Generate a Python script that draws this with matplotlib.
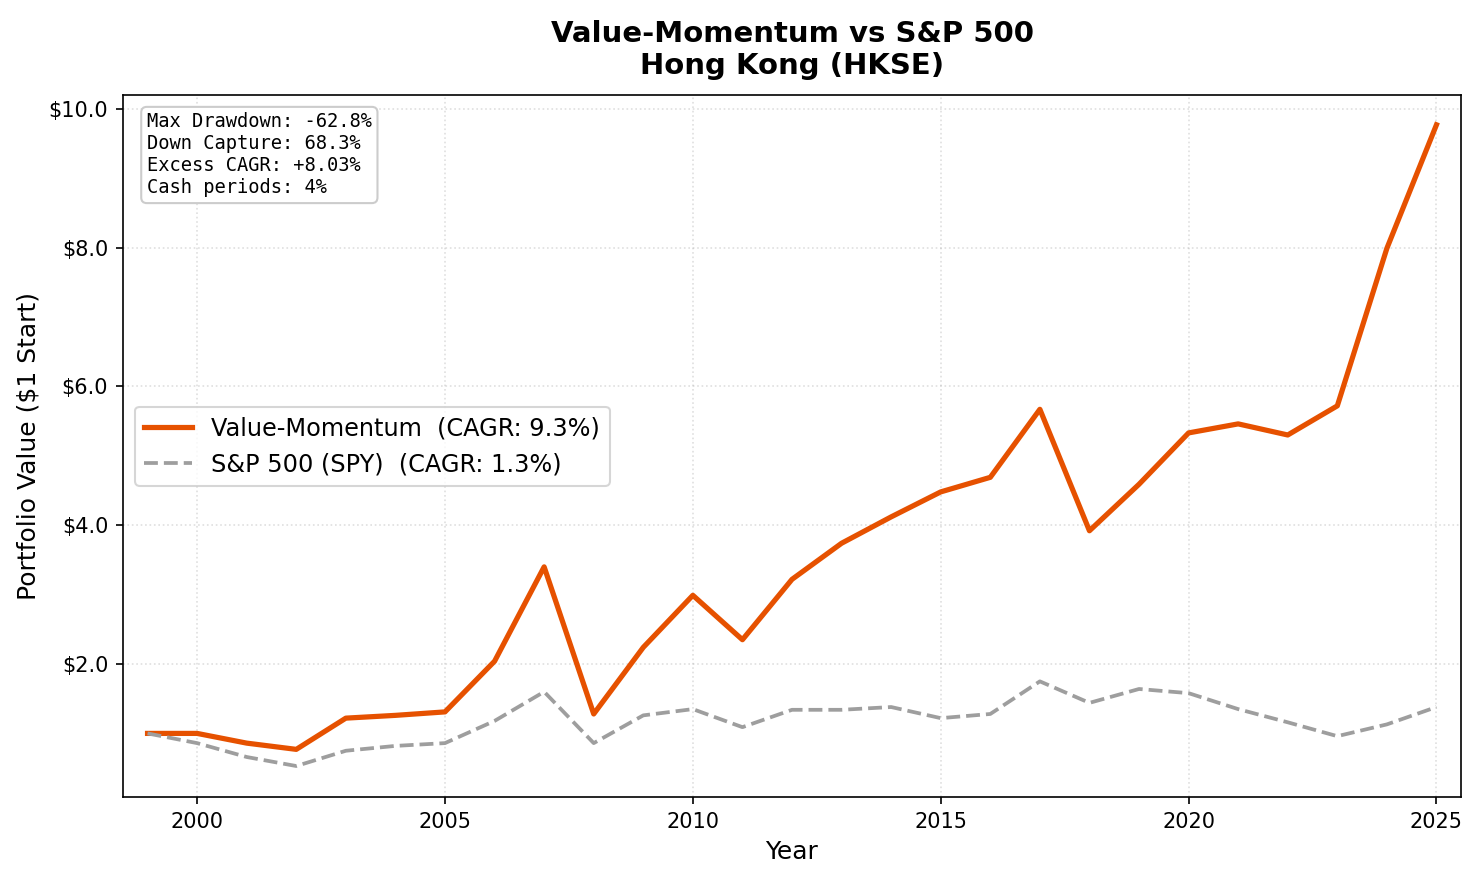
import matplotlib.pyplot as plt
from matplotlib.ticker import FuncFormatter

years = list(range(1999, 2026))
vm_values = [1.00, 1.00, 0.86, 0.77, 1.22, 1.26, 1.31, 2.04, 3.40, 1.28, 2.24, 2.99, 2.35,
             3.22, 3.74, 4.12, 4.48, 4.69, 5.67, 3.92, 4.59, 5.33, 5.46, 5.30, 5.72, 7.99, 9.77]
spy_values = [1.00, 0.86, 0.66, 0.53, 0.75, 0.82, 0.86, 1.18, 1.60, 0.86, 1.26, 1.35, 1.09,
              1.34, 1.34, 1.38, 1.22, 1.28, 1.75, 1.44, 1.64, 1.58, 1.35, 1.16, 0.96, 1.13, 1.38]
stats_text = "Max Drawdown: -62.8%\nDown Capture: 68.3%\nExcess CAGR: +8.03%\nCash periods: 4%"

fig, ax = plt.subplots(figsize=(9.86, 5.86), dpi=150)
ax.plot(years, vm_values, color="#e65100", linewidth=2.5, label="Value-Momentum  (CAGR: 9.3%)")
ax.plot(years, spy_values, color="#9e9e9e", linewidth=1.8, linestyle="--", label="S&P 500 (SPY)  (CAGR: 1.3%)")

ax.set_title("Value-Momentum vs S&P 500\nHong Kong (HKSE)", fontsize=14, fontweight="bold", pad=10)
ax.set_xlabel("Year", fontsize=12)
ax.set_ylabel("Portfolio Value ($1 Start)", fontsize=12)
ax.yaxis.set_major_formatter(FuncFormatter(lambda v, p: f"${v:.1f}"))
ax.set_yticks([2, 4, 6, 8, 10])
ax.set_xlim(1998.5, 2025.5)
ax.set_ylim(0.08, 10.2)
ax.tick_params(labelsize=10)
ax.grid(True, linestyle=":", alpha=0.4)
ax.legend(loc="center left", fontsize=11.5, bbox_to_anchor=(0.0, 0.5))
ax.text(0.018, 0.975, stats_text, transform=ax.transAxes, va="top", ha="left",
        family="monospace", fontsize=9,
        bbox=dict(boxstyle="round", facecolor="white", edgecolor="#cccccc"))

plt.subplots_adjust(left=0.083, right=0.988, top=0.892, bottom=0.093)
plt.savefig("out.png", dpi=150)
